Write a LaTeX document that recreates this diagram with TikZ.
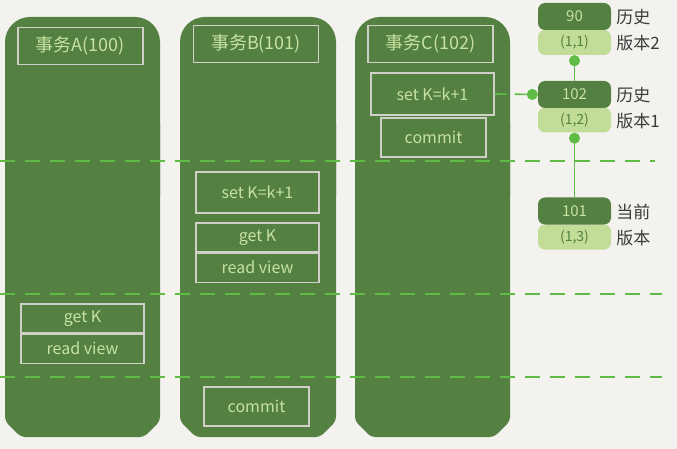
\documentclass[tikz,border=0pt]{standalone}
\usepackage{fontspec}
\setmainfont{Noto Sans CJK SC}
\usetikzlibrary{arrows.meta, positioning}

\definecolor{paper}{RGB}{244,242,238}
\definecolor{colgreen}{RGB}{84,129,66}
\definecolor{chalk}{RGB}{200,226,160}
\definecolor{boxline}{RGB}{208,208,200}
\definecolor{dashgreen}{RGB}{93,187,70}
\definecolor{palegreen}{RGB}{193,221,152}
\definecolor{inkgray}{RGB}{58,60,60}

\begin{document}
\begin{tikzpicture}[x=1pt, y=-1pt,
    title/.style={draw=boxline, line width=1.1pt, text=chalk, inner sep=0pt,
        minimum width=125pt, minimum height=37pt, font=\fontsize{18}{18}\selectfont},
    opbox/.style={draw=boxline, line width=1.1pt, text=chalk, inner sep=0pt,
        minimum width=123pt, font=\fontsize{16}{16}\selectfont},
    verdark/.style={fill=colgreen, rounded corners=7pt, text=chalk, inner sep=0pt,
        minimum width=73pt, minimum height=27pt, font=\fontsize{15}{15}\selectfont},
    verpale/.style={fill=palegreen, rounded corners=7pt, text=colgreen, inner sep=0pt,
        minimum width=73pt, minimum height=25pt, font=\fontsize{14}{14}\selectfont},
    lbl/.style={text=inkgray, align=left, inner sep=0pt,
        font=\fontsize{17}{26}\selectfont},
    timeline/.style={dashgreen, line width=1.6pt, dash pattern=on 15pt off 10pt},
    uparrow/.style={dashgreen, line width=1.6pt, -{Circle[length=11pt, width=11pt]}},
    linkarrow/.style={dashgreen, line width=1.6pt, dash pattern=on 12pt off 8pt,
        -{Circle[length=11pt, width=11pt]}}
]

\useasboundingbox[fill=paper] (0,0) rectangle (677,449);

% columns for the three transactions
\foreach \xa/\xb in {5/160, 180/336, 355/510} {
    \fill[colgreen, rounded corners=25pt] (\xa,17) rectangle (\xb,220);
    \fill[colgreen, rounded corners=4pt] (\xa,120) -- (\xb,120) -- (\xb,421)
        -- (\xb-16,437) -- (\xa+16,437) -- (\xa,421) -- cycle;
}

% time steps
\draw[timeline] (0,161) -- (655,161);
\draw[timeline] (0,294) -- (662,294);
\draw[timeline] (0,377) -- (662,377);

\node[title] (trxA) at (80.5,46) {事务A(100)};
\node[title] (trxB) at (256,44) {事务B(101)};
\node[title] (trxC) at (430.5,44) {事务C(102)};

\node[opbox, minimum height=42pt] (setC) at (432.5,94) {set K=k+1};
\node[opbox, minimum width=105pt, minimum height=39pt] (commitC) at (433.5,137.5) {commit};

\node[opbox, minimum height=41pt] (setB) at (257.5,192.5) {set K=k+1};
\node[opbox, minimum height=29pt] (getB) at (257.5,237.5) {get K};
\node[opbox, minimum height=29pt, below=0pt of getB] (viewB) {read view};
\node[opbox, minimum width=105pt, minimum height=39pt] (commitB) at (256.5,406.5) {commit};

\node[opbox, minimum height=29pt] (getA) at (82.5,318.5) {get K};
\node[opbox, minimum height=29pt, below=0pt of getA] (viewA) {read view};

% row versions
\node[verpale] (row11) at (574.5,42.5) {(1,1)};
\node[verdark] (ver90) at (574.5,16.5) {90};
\node[verpale] (row12) at (574.5,120) {(1,2)};
\node[verdark] (ver102) at (574.5,94.5) {102};
\node[verpale] (row13) at (574.5,237) {(1,3)};
\node[verdark] (ver101) at (574.5,211) {101};

\node[lbl, right=5pt of ver90.south east] (hist2) {历史\\版本2};
\node[lbl, right=5pt of ver102.south east] (hist1) {历史\\版本1};
\node[lbl, right=5pt of ver101.south east] (cur) {当前\\版本};

\draw[uparrow] (ver102.north) -- (row11.south);
\draw[uparrow] (ver101.north) -- (row12.south);
\draw[linkarrow] (setC.east) -- (ver102.west);

\end{tikzpicture}
\end{document}
